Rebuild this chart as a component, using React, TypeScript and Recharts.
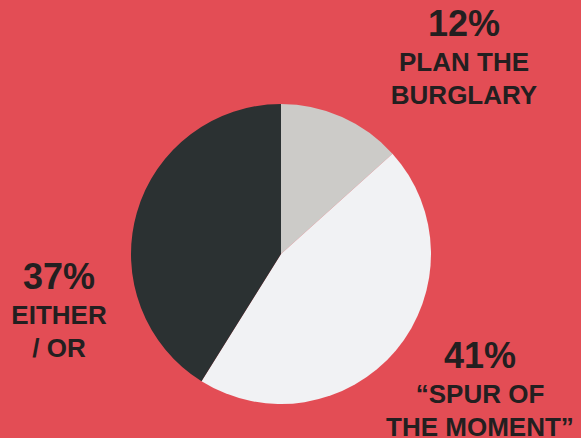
import { PieChart, Pie, Cell } from "recharts";

const categories = ["PLAN THE BURGLARY", "\u201cSPUR OF THE MOMENT\u201d", "EITHER / OR"];
const values = [12, 41, 37];
const percentLabels = ["12%", "41%", "37%"];
const textLines = [
  ["PLAN THE", "BURGLARY"],
  ["\u201cSPUR OF", "THE MOMENT\u201d"],
  ["EITHER", "/ OR"],
];

const colors = ["#cccbc8", "#f1f2f4", "#2b3132"];

// where each label block sits (centre x, baseline of the percent line)
const labelSpots = [
  { x: 464, y: 36 },
  { x: 480, y: 368 },
  { x: 59, y: 289 },
];

const data = categories.map((name, i) => ({ name, value: values[i] }));

const renderLabel = (props: any) => {
  const spot = labelSpots[props.index];
  return (
    <g key={`lbl-${props.index}`}>
      <text
        x={spot.x}
        y={spot.y}
        textAnchor="middle"
        fill="#231f20"
        fontSize={36}
        fontWeight="bold"
        fontFamily="'Liberation Sans', Arial, sans-serif"
      >
        {percentLabels[props.index]}
      </text>
      {textLines[props.index].map((line, j) => (
        <text
          key={j}
          x={spot.x}
          y={spot.y + 35 + j * 33}
          textAnchor="middle"
          fill="#231f20"
          fontSize={26}
          fontWeight="bold"
          fontFamily="'Liberation Sans', Arial, sans-serif"
        >
          {line}
        </text>
      ))}
    </g>
  );
};

export default function App() {
  return (
    <div
      style={{
        position: "absolute",
        top: 0,
        left: 0,
        width: 581,
        height: 438,
        background: "#e34d55",
        overflow: "hidden",
      }}
    >
      <PieChart width={581} height={438} margin={{ top: 0, right: 0, bottom: 0, left: 0 }}>
        <Pie
          data={data}
          dataKey="value"
          cx={281}
          cy={254}
          outerRadius={150}
          startAngle={90}
          endAngle={-270}
          stroke="none"
          label={renderLabel}
          labelLine={false}
          isAnimationActive={false}
        >
          {data.map((d, i) => (
            <Cell key={d.name} fill={colors[i]} />
          ))}
        </Pie>
      </PieChart>
    </div>
  );
}
